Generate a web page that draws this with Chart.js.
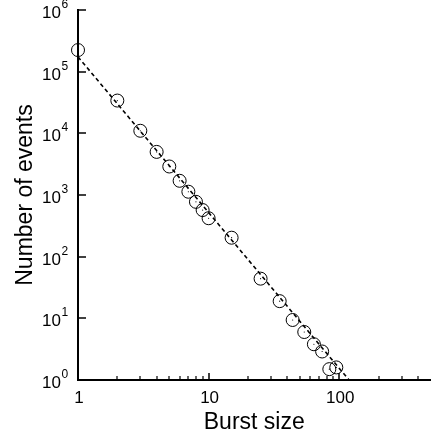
<!DOCTYPE html>
<html>
<head>
<meta charset="utf-8">
<script src="https://cdn.jsdelivr.net/npm/chart.js@4"></script>
<style>
html,body{margin:0;padding:0;background:#fff;}
#wrap{width:438px;height:443px;}
</style>
</head>
<body>
<div id="wrap"><canvas id="c" width="438" height="443"></canvas></div>
<script>
// ---- data ----
const burstSize = [1, 2, 3, 4, 5, 6, 7, 8, 9, 10, 15, 25, 35, 44, 54, 64, 74, 84, 95];
const numEvents = [224000, 34000, 11000, 5000, 2900, 1700, 1130, 775, 570, 420, 203, 44, 19, 9.4, 6, 3.8, 2.9, 1.5, 1.6];
const fitX = [1, 119];
const fitY = [174000, 1];
const xLabelTicks = [1, 10, 100];
const xMajorTicks = [10, 100];
const xMinorTicks = [2,3,4,5,6,7,8,9,20,30,40,50,60,70,80,90,200,300,400];
const yTicks = [1, 10, 100, 1000, 10000, 100000, 1000000];
const yExponents = ['0','1','2','3','4','5','6'];
const xTitle = 'Burst size';
const yTitle = 'Number of events';

const pts = burstSize.map((x, i) => ({x, y: numEvents[i]}));
const fit = fitX.map((x, i) => ({x, y: fitY[i]}));

const FONT = '"Liberation Sans", Arial, sans-serif';

const axisDecor = {
  id: 'axisDecor',
  afterDraw(chart) {
    const ctx = chart.ctx;
    const xs = chart.scales.x, ys = chart.scales.y;
    const left = chart.chartArea.left, bottom = chart.chartArea.bottom, top = chart.chartArea.top;
    ctx.save();
    ctx.strokeStyle = '#000';
    ctx.fillStyle = '#000';
    ctx.lineWidth = 1.5;
    yTicks.forEach(v => {
      const py = Math.round(ys.getPixelForValue(v));
      ctx.beginPath(); ctx.moveTo(left, py); ctx.lineTo(left + 8, py); ctx.stroke();
    });
    xMajorTicks.forEach(v => {
      const px = Math.round(xs.getPixelForValue(v));
      ctx.beginPath(); ctx.moveTo(px, bottom); ctx.lineTo(px, bottom - 7); ctx.stroke();
    });
    ctx.lineWidth = 1.2;
    xMinorTicks.forEach(v => {
      const px = Math.round(xs.getPixelForValue(v));
      ctx.beginPath(); ctx.moveTo(px, bottom); ctx.lineTo(px, bottom - 4); ctx.stroke();
    });
    yTicks.forEach((v, i) => {
      const py = ys.getPixelForValue(v);
      ctx.font = '17px ' + FONT;
      ctx.textAlign = 'right'; ctx.textBaseline = 'alphabetic';
      ctx.fillText('10', 61, py + 8);
      ctx.font = '12px ' + FONT;
      ctx.textAlign = 'left';
      ctx.fillText(yExponents[i], 61.5, py - 2);
    });
    ctx.font = '17px ' + FONT;
    ctx.textAlign = 'center'; ctx.textBaseline = 'middle';
    xLabelTicks.forEach(v => {
      const px = xs.getPixelForValue(v);
      ctx.fillText(String(v), px + 1, bottom + 18);
    });
    ctx.font = '23px ' + FONT;
    ctx.fillText(xTitle, (chart.chartArea.left + chart.chartArea.right) / 2, 423);
    ctx.translate(26, (top + bottom) / 2);
    ctx.rotate(-Math.PI / 2);
    ctx.fillText(yTitle, 0, 0);
    ctx.restore();
  }
};

new Chart(document.getElementById('c'), {
  type: 'scatter',
  data: {
    datasets: [
      {
        label: 'fit',
        data: fit,
        showLine: true,
        borderColor: '#000',
        borderWidth: 1.6,
        borderDash: [4, 3],
        pointRadius: 0,
        fill: false,
        clip: false,
        order: 2
      },
      {
        label: 'data',
        data: pts,
        pointStyle: 'circle',
        pointRadius: 6.5,
        pointBorderColor: '#000',
        pointBackgroundColor: 'rgba(0,0,0,0)',
        pointBorderWidth: 1,
        clip: false,
        order: 1
      },
      {
        label: 'centers',
        data: pts,
        pointStyle: 'circle',
        pointRadius: 0.6,
        pointBorderWidth: 0,
        pointBackgroundColor: '#000',
        clip: false,
        order: 0
      }
    ]
  },
  options: {
    responsive: false,
    animation: false,
    devicePixelRatio: 1,
    layout: { padding: { top: 10, right: 5, left: 0, bottom: 0 } },
    plugins: { legend: { display: false }, tooltip: { enabled: false } },
    scales: {
      x: {
        type: 'logarithmic',
        min: 1, max: 500,
        grid: { display: false, drawTicks: false },
        border: { display: true, color: '#000', width: 2 },
        ticks: { display: false },
        afterFit(s) { s.height = 63; }
      },
      y: {
        type: 'logarithmic',
        min: 1, max: 1000000,
        grid: { display: false, drawTicks: false },
        border: { display: true, color: '#000', width: 2 },
        ticks: { display: false },
        afterFit(s) { s.width = 78; }
      }
    }
  },
  plugins: [axisDecor]
});
</script>
</body>
</html>
